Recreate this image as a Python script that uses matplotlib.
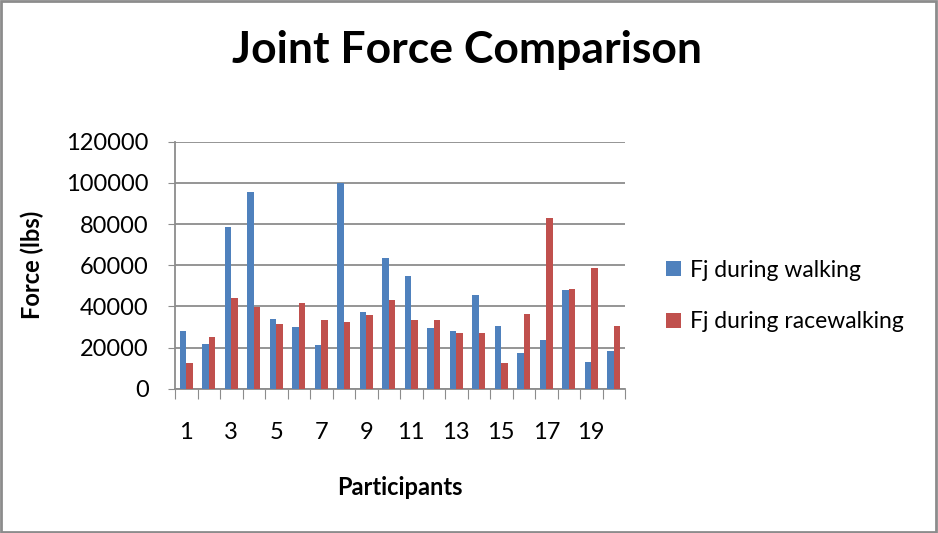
import matplotlib
matplotlib.use("Agg")
import matplotlib.pyplot as plt
import matplotlib.patches as patches
import numpy as np

participants = list(range(1, 21))
walking = [28000, 21900, 78600, 95400, 33700, 30000, 21200, 100000, 37400, 63700,
           54900, 29300, 28000, 45500, 30600, 17500, 23800, 48100, 13100, 18100]
racewalking = [12500, 24900, 44200, 39900, 31300, 41800, 33200, 32600, 35600, 42900,
               33200, 33200, 26900, 26900, 12500, 36300, 82900, 48600, 58600, 30600]
series_names = ["Fj during walking", "Fj during racewalking"]
colors = ["#4F81BD", "#C0504D"]
yticks = [0, 20000, 40000, 60000, 80000, 100000, 120000]

plt.rcParams['font.family'] = ['Lato', 'DejaVu Sans']

fig = plt.figure(figsize=(9.38, 5.33), dpi=100)
ax = fig.add_axes([175/938, 1-388.7/533, 450/938, 247/533])

x = np.arange(1, len(participants) + 1)
w = 0.28
ax.bar(x - w/2, walking, w, color=colors[0], label=series_names[0], zorder=3)
ax.bar(x + w/2, racewalking, w, color=colors[1], label=series_names[1], zorder=3)

ax.set_xlim(0.5, len(participants) + 0.5)
ax.set_ylim(0, 120000)
ax.set_yticks(yticks)
ax.set_yticklabels([str(v) for v in yticks], fontsize=17)
ax.yaxis.grid(True, color="#8c8c8c", linewidth=1.3, zorder=0)

# category boundary ticks, labels on every other participant
ax.set_xticks(np.arange(0.5, len(participants) + 1, 1))
ax.set_xticklabels([])
ax.set_xticks(x[::2], minor=True)
ax.set_xticklabels([str(p) for p in participants[::2]], minor=True, fontsize=17)
ax.tick_params(axis='x', which='major', length=7, color="#8c8c8c", direction='out')
ax.tick_params(axis='x', which='minor', length=0, pad=24)
ax.tick_params(axis='y', length=5, color="#8c8c8c", pad=14)

for s in ['top', 'right']:
    ax.spines[s].set_visible(False)
for s in ['left', 'bottom']:
    ax.spines[s].set_color("#8c8c8c")
    ax.spines[s].set_linewidth(1.3)

ax.set_xlabel("Participants", fontsize=17, fontweight='bold', labelpad=24)
ax.set_ylabel("Force (lbs)", fontsize=17, fontweight='bold', labelpad=16)

fig.text(467/938, 1-50/533, "Joint Force Comparison", fontsize=32, fontweight='bold',
         ha='center', va='center')

ax.legend(loc='center left', bbox_to_anchor=(645/938, 1-296/533), bbox_transform=fig.transFigure,
          frameon=False, fontsize=16.5, labelspacing=1.35, handlelength=0.65, handleheight=0.65,
          handletextpad=0.4)

# outer border
fig.patches.append(patches.Rectangle((0.001, 0.002), 0.997, 0.996, transform=fig.transFigure,
                                     fill=False, edgecolor="#8c8c8c", linewidth=2))

fig.savefig("out.png", dpi=100)
